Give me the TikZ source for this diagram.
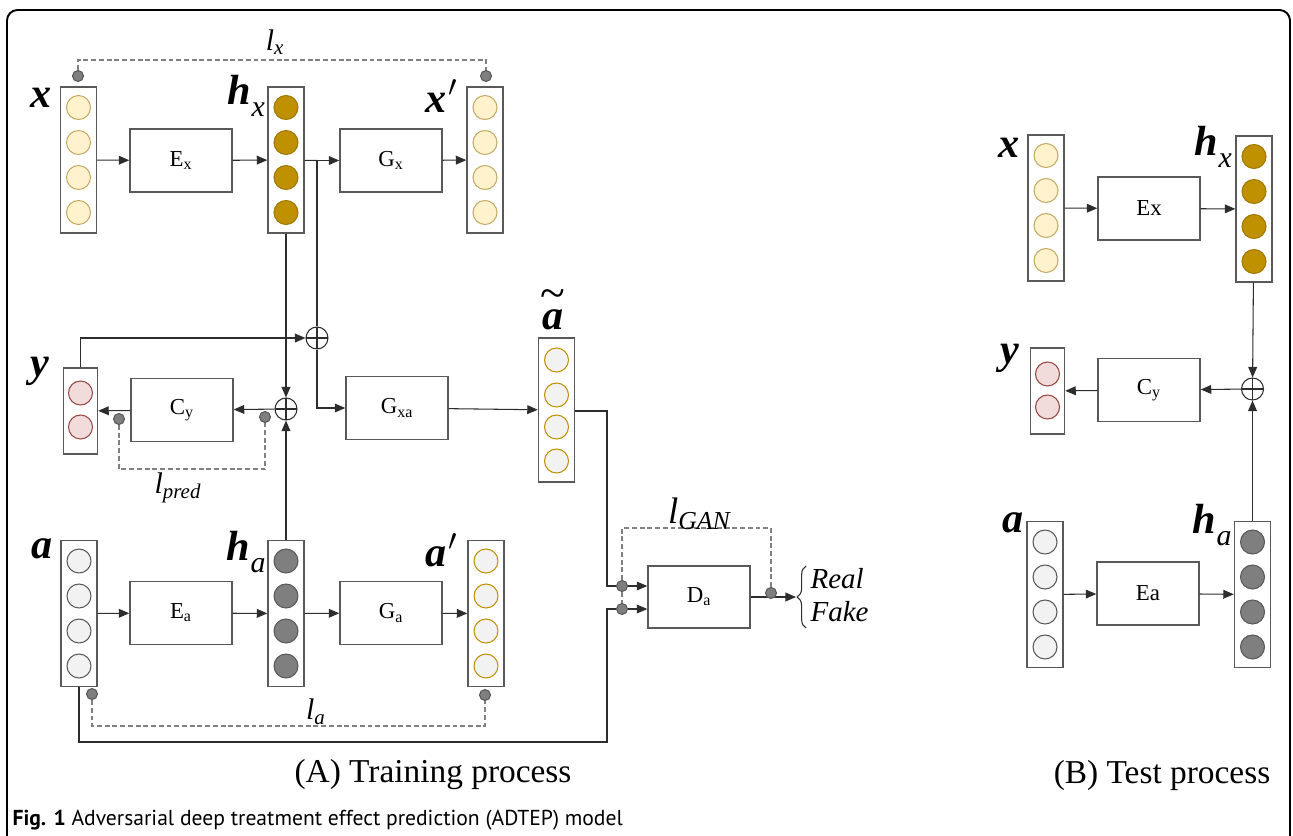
\documentclass[tikz,border=0pt]{standalone}
\usepackage{fontspec}
\setmainfont{Liberation Serif}[
  BoldFont={Liberation Serif Bold},
  ItalicFont={Liberation Serif Italic},
  BoldItalicFont={Liberation Serif Bold Italic}]
\newfontfamily\capfont{PT Sans}
\usepackage{tikz}
\usetikzlibrary{arrows.meta}
\usetikzlibrary{positioning}
\usetikzlibrary{decorations.pathreplacing}

\definecolor{boxgray}{RGB}{89,89,89}
\definecolor{wire}{RGB}{45,45,45}
\definecolor{xfill}{RGB}{255,242,204}
\definecolor{xline}{RGB}{196,170,100}
\definecolor{gold}{RGB}{191,144,0}
\definecolor{goldline}{RGB}{160,120,0}
\definecolor{lightcell}{RGB}{242,242,242}
\definecolor{darkcell}{RGB}{127,127,127}
\definecolor{yfill}{RGB}{242,220,219}
\definecolor{yline}{RGB}{150,70,65}

\newcommand{\hvar}[1]{h\kern0.5pt\raisebox{-0.3em}{\fontsize{17}{17}\selectfont\mdseries\itshape #1}}
\newcommand{\lossl}[1]{\textit{l}\textsubscript{\textit{#1}}}

\begin{document}
\begin{tikzpicture}[x=0.02cm,y=-0.02cm,>={Triangle[length=6pt,width=5pt]},line width=0.6pt,
  block/.style={draw=boxgray,line width=0.8pt,minimum width=2.04cm,minimum height=1.26cm,
    font=\fontsize{13}{15}\selectfont},
  vecbox/.style={draw=boxgray,line width=0.8pt,minimum width=0.72cm,minimum height=2.92cm,inner sep=0},
  shortbox/.style={vecbox,minimum width=0.68cm,minimum height=1.72cm},
  cell/.style={circle,minimum size=0.48cm,inner sep=0,line width=0.6pt},
  xcell/.style={cell,fill=xfill,draw=xline},
  hxcell/.style={cell,fill=gold,draw=goldline},
  acell/.style={cell,fill=lightcell,draw=boxgray},
  gcell/.style={cell,fill=lightcell,draw=gold},
  hacell/.style={cell,fill=darkcell,draw=boxgray},
  ycell/.style={cell,fill=yfill,draw=yline},
  lossdot/.style={circle,fill=darkcell,draw=boxgray,minimum size=0.22cm,inner sep=0},
  lossline/.style={dash pattern=on 2.8pt off 1.6pt,draw=gray,line width=0.6pt},
  sumnode/.style={circle,draw=wire,minimum size=0.44cm,inner sep=0,
    path picture={\draw[wire,line width=0.6pt] (path picture bounding box.north) -- (path picture bounding box.south)
      (path picture bounding box.west) -- (path picture bounding box.east);}},
  var/.style={font=\fontsize{24}{24}\selectfont\bfseries\itshape,inner sep=0},
  losslabel/.style={font=\fontsize{17}{17}\selectfont,inner sep=0},
  wires/.style={draw=wire,line width=0.6pt}]

  \useasboundingbox (0,0) rectangle (1293,835);
  \draw[line width=1.1pt,rounded corners=6pt] (7,900) -- (7,10) -- (1290,10) -- (1290,900);

  % (A) training: vectors
  \node[vecbox] (xin) at (78.5,160) {};
  \node[vecbox] (hx) at (286,160) {};
  \node[vecbox] (xout) at (485,160) {};
  \node[shortbox] (yout) at (80.5,411) {};
  \node[vecbox,minimum height=2.88cm] (at) at (556.5,410) {};
  \node[vecbox] (ain) at (79,613.5) {};
  \node[vecbox] (ha) at (286,613.5) {};
  \node[vecbox] (aout) at (486,613.5) {};
  \foreach \cy [count=\i] in {107.5,142.5,177.5,212.5} {
    \node[xcell] (xin\i) at (78.5,\cy) {};
    \node[hxcell] (hx\i) at (286,\cy) {};
    \node[xcell] (xout\i) at (485,\cy) {};
  }
  \foreach \cy [count=\i] in {561,596,631,666} {
    \node[acell] (ain\i) at (79,\cy) {};
    \node[hacell] (ha\i) at (286,\cy) {};
    \node[gcell] (aout\i) at (486,\cy) {};
  }
  \foreach \cy [count=\i] in {360,395,427,461}
    \node[gcell] (at\i) at (556.5,\cy) {};
  \node[ycell] (yout1) at (80.5,393) {};
  \node[ycell] (yout2) at (80.5,427) {};

  % (A) training: blocks
  \node[block] (ex) at (181,160.5) {E\textsubscript{x}};
  \node[block] (gx) at (391,160.5) {G\textsubscript{x}};
  \node[block] (cy) at (182,410) {C\textsubscript{y}};
  \node[block] (gxa) at (397,408) {G\textsubscript{xa}};
  \node[block] (ea) at (181,613) {E\textsubscript{a}};
  \node[block] (ga) at (391,613) {G\textsubscript{a}};
  \node[block,minimum height=1.24cm] (da) at (699,597) {D\textsubscript{a}};
  \node[sumnode] (sumy) at (317,338) {};
  \node[sumnode] (sumh) at (286,409) {};

  \coordinate (split) at (317,160.5);
  \coordinate (ina) at (607,586);
  \coordinate (corner) at (607,742);
  \coordinate (inb) at (607,609);
  \coordinate (outd) at (796,597);

  \draw[wires,->] (xin) -- (ex);
  \draw[wires,->] (ex) -- (hx);
  \draw[wires] (hx) -- (split);
  \draw[wires,->] (split) -- (gx);
  \draw[wires,->] (gx) -- (xout);
  \draw[wires] (split) -- (sumy);
  \draw[wires,->] (sumy.south) |- (gxa);
  \draw[wires,->] (yout.north) |- (sumy);
  \draw[wires,->] (hx) -- (sumh);
  \draw[wires,->] (ha) -- (sumh);
  \draw[wires,->] (sumh) -- (cy);
  \draw[wires,->] (cy) -- (yout);
  \draw[wires,->] (gxa) -- (at);
  \draw[wires,->] (ain) -- (ea);
  \draw[wires,->] (ea) -- (ha);
  \draw[wires,->] (ha) -- (ga);
  \draw[wires,->] (ga) -- (aout);
  \draw[wires] (at.east |- 0,411) -| (ina) -- (622,586);
  \draw[wires] (ain.south) |- (corner) -- (inb) -- (622,609);
  \draw[wires,->] (622,586) -- (da.west |- ina);
  \draw[wires,->] (622,609) -- (da.west |- inb);
  \draw[wires,->] (da) -- (outd);

  % losses
  \node[lossdot] (dx1) at (78,76) {};
  \node[lossdot] (dx2) at (486,76) {};
  \node[lossdot] (dp1) at (119,419) {};
  \node[lossdot] (dp2) at (265,417) {};
  \node[lossdot] (dl1) at (92,694) {};
  \node[lossdot] (dl2) at (485,695) {};
  \node[lossdot] (dg1) at (622,586) {};
  \node[lossdot] (dg2) at (622,609) {};
  \node[lossdot] (dg3) at (771,593) {};
  \draw[lossline] (dx1.north) |- (280,60) -| (dx2.north);
  \draw[lossline] (dp1.south) |- (190,469) -| (dp2.south);
  \draw[lossline] (dl1.south) |- (290,726) -| (dl2.south);
  \draw[lossline] (dg1.north) |- (700,528) -| (dg3.north);
  \draw[lossline] (dg1.south) -- (dg2.north);

  \node[losslabel] (lx) at (275,42) {\lossl{x}};
  \node[losslabel] (lpred) at (178,488) {\lossl{pred}};
  \node[losslabel] (la) at (316,712) {\lossl{a}};
  \node[losslabel,font=\fontsize{21}{21}\selectfont] (lgan) at (700,514) {\lossl{GAN}};

  % real / fake
  \draw[wires,decorate,decoration={brace,amplitude=5pt}] (806,628) -- (806,566);
  \node[anchor=west,font=\fontsize{16.5}{16.5}\selectfont\itshape,inner sep=0] (real) at (810,579) {Real};
  \node[anchor=west,font=\fontsize{16.5}{16.5}\selectfont\itshape,inner sep=0] (fake) at (810,612) {Fake};

  % variable names
  \node[var] (xlab) at (41,98) {x};
  \node[var] (hxlab) at (246,96) {\hvar{x}};
  \node[var] (xoutlab) at (442,96) {x\kern1pt$'$};
  \node[var] (ylab) at (40,371) {y};
  \node[var] (atlab) at (553,320) {a};
  \node[font=\fontsize{26}{26}\selectfont,inner sep=0,above=0pt of atlab] (attilde) {\textasciitilde};
  \node[var] (alab) at (42,549) {a};
  \node[var] (halab) at (246,552) {\hvar{a}};
  \node[var] (aoutlab) at (442,550) {a\kern1pt$'$};

  % (B) test
  \node[vecbox] (bxin) at (1046,208) {};
  \node[vecbox] (bhx) at (1254,209) {};
  \node[shortbox] (byout) at (1047.5,391) {};
  \node[vecbox] (bain) at (1045,594.5) {};
  \node[vecbox] (bha) at (1252.5,594.5) {};
  \foreach \cy [count=\i] in {155.5,190.5,225.5,260.5} {
    \node[xcell] (bxin\i) at (1046,\cy) {};
    \node[hxcell] (bhx\i) at (1254,\cy+1) {};
  }
  \foreach \cy [count=\i] in {542,577,612,647} {
    \node[acell] (bain\i) at (1045,\cy) {};
    \node[hacell] (bha\i) at (1252.5,\cy) {};
  }
  \node[ycell] (byout1) at (1047.5,374) {};
  \node[ycell] (byout2) at (1047.5,407) {};
  \node[block] (bex) at (1149,208.5) {Ex};
  \node[block] (bcy) at (1149,390) {C\textsubscript{y}};
  \node[block] (bea) at (1148,593.5) {Ea};
  \node[sumnode] (bsum) at (1252.5,389) {};

  \draw[wires,->] (bxin) -- (bex);
  \draw[wires,->] (bex) -- (bhx);
  \draw[wires,->] (bhx) -- (bsum);
  \draw[wires,->] (bha) -- (bsum);
  \draw[wires,->] (bsum) -- (bcy);
  \draw[wires,->] (bcy) -- (byout);
  \draw[wires,->] (bain) -- (bea);
  \draw[wires,->] (bea) -- (bha);

  \node[var] (bxlab) at (1009,148) {x};
  \node[var] (bhxlab) at (1213,147) {\hvar{x}};
  \node[var] (bylab) at (1010,358) {y};
  \node[var] (balab) at (1013,523) {a};
  \node[var] (bhalab) at (1212,525) {\hvar{a}};

  % captions
  \node[font=\fontsize{19}{21}\selectfont] (capa) at (433,775) {(A) Training process};
  \node[font=\fontsize{19}{21}\selectfont] (capb) at (1162,775) {(B) Test process};
  \node[anchor=west,inner sep=0,font=\capfont\fontsize{12.3}{14}\selectfont] (fig) at (12,820)
    {\textbf{Fig. 1} Adversarial deep treatment effect prediction (ADTEP) model};
\end{tikzpicture}
\end{document}
